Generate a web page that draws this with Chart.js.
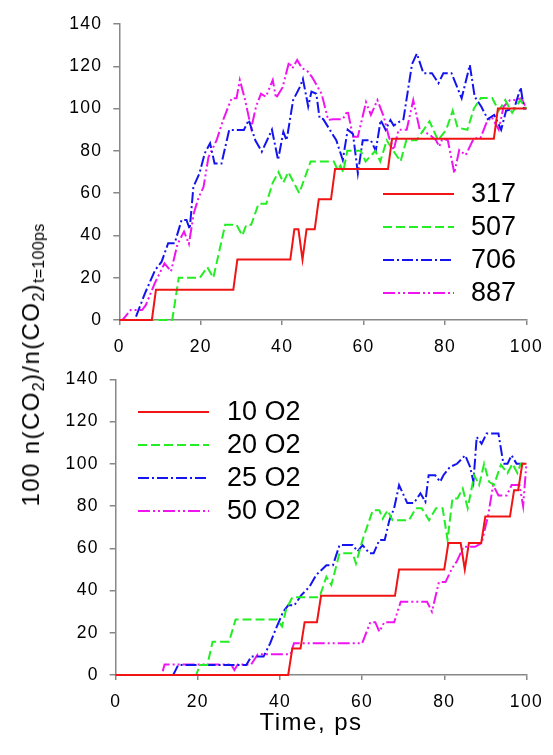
<!DOCTYPE html>
<html>
<head>
<meta charset="utf-8">
<script src="https://cdn.jsdelivr.net/npm/chart.js@4.4.1/dist/chart.umd.min.js"></script>
<style>
  html, body { margin: 0; padding: 0; background: #fff; }
  #page { position: relative; width: 553px; height: 755px; overflow: hidden;
          font-family: "Liberation Sans", Arial, sans-serif; color: #000; }
  .panel { position: absolute; left: 0; width: 553px; }
  #top { top: 0; height: 360px; }
  #bottom { top: 355px; height: 400px; }
  #ytitle { position: absolute; left: 31px; top: 365px; white-space: nowrap;
            transform: translate(-50%, -50%) rotate(-90deg);
            font-size: 24px; line-height: 24px; letter-spacing: 1.4px; }
  #ytitle sub { font-size: 16px; line-height: 0; letter-spacing: 0.3px; vertical-align: -5px; }
  #xtitle { position: absolute; left: 311px; top: 710px; transform: translateX(-50%);
            font-size: 24px; line-height: 24px; letter-spacing: 1.5px; white-space: nowrap; }
</style>
</head>
<body>
<div id="page">
  <div class="panel" id="top"><canvas id="chartTop"></canvas></div>
  <div class="panel" id="bottom"><canvas id="chartBottom"></canvas></div>
  <div id="ytitle">100 n(CO<sub>2</sub>)/n(CO<sub>2</sub>)<sub>t=100ps</sub></div>
  <div id="xtitle">Time, ps</div>
</div>
<script>
  // top panel: temperatures
  const topNames = ["317", "507", "706", "887"];

  const t317 = [0, 8, 9, 28, 29, 42, 43, 44, 45, 46, 48, 49, 52, 53, 66, 67, 92, 93, 100];
  const y317 = [0, 0, 14.3, 14.3, 28.6, 28.6, 42.9, 42.9, 28.6, 42.9, 42.9, 57.1, 57.1, 71.4, 71.4, 85.7, 85.7, 100, 100];

  const t507 = [0, 13, 14.6, 19.8, 21.6, 23.1, 26, 28.8, 30.2, 31.2, 32.4, 34.2, 36.1, 37.7, 39.1, 40.3, 41.5, 44.2, 47,
    52.7, 53.6, 54.3, 55, 56, 59.3, 60.5, 62.9, 64.1, 65.7, 67.3, 69.1, 70.5, 73, 76.2, 78.3, 80.3, 81.9, 83.1, 85.5,
    87.1, 88.8, 91.6, 93.2, 94.8, 96.5, 98.5, 100];
  const y507 = [0, 0, 20, 20, 25, 20, 45, 45, 40, 45, 45, 55, 55, 65, 70, 65, 70, 60, 75,
    75, 71, 73, 70, 80, 80, 75, 80, 75, 85, 80, 75, 85, 85, 94, 85, 90, 99, 91, 90,
    100, 105, 105, 99, 104, 98, 104, 100];

  const t706 = [0, 3.8, 6.3, 8.8, 10.4, 12, 13.6, 15.3, 16.5, 17.3, 18.2, 19.7, 21, 22.3, 23.4, 25.1, 27, 30.6, 31.8,
    33.4, 35, 37.5, 39, 40.3, 41.1, 42.7, 44.3, 45.1, 46.4, 47.2, 48.4, 49.2, 50.1, 51.7, 53.3, 54.9, 56.1, 57.4,
    58.6, 59.8, 61.8, 63, 64.2, 65.4, 66.6, 67.4, 69.8, 71.9, 73.1, 74.7, 76.8, 78.4, 79.6, 81.6, 84.1, 86.1, 87.3,
    88.9, 90.5, 92.1, 93.8, 95, 97, 98.6, 99.4, 100];
  const y706 = [0, 0, 12.6, 23.6, 27.6, 36.3, 36.3, 47.3, 47.3, 43, 63, 69.4, 78.9, 83.6, 74, 74, 89.9, 89.9, 94.6,
    85, 79.6, 90, 75.7, 89, 85, 104, 110, 114, 101, 108, 107, 95.4, 95, 90, 85, 75.7, 90, 88,
    69.4, 85, 85, 80, 94.6, 90, 94.6, 92, 95, 121, 126, 116.7, 116.7, 112, 116.7, 116.7, 104.9, 120.6, 105.6,
    101, 95, 97, 90, 99, 100, 110, 100, 100];

  const t887 = [0, 0.8, 2.8, 5.6, 6.5, 8.7, 11.1, 12.7, 14.3, 15.9, 17.1, 18.3, 19.5, 20.7, 21.9, 23.9, 25.5, 27.6,
    28.8, 29.6, 30.8, 32.4, 33.6, 34.8, 36, 37.7, 38.5, 40.1, 41.7, 42.5, 43.7, 44.9, 46.1, 47.3, 49.7, 51.3, 52.5,
    54.9, 56.1, 57.4, 58.6, 60.6, 61.8, 63.4, 65, 66.2, 67.4, 68.6, 70.6, 72.2, 73.8, 76.2, 77.8, 78.6, 79.4, 80.7,
    82.3, 83.5, 85.1, 87.1, 88.7, 90.3, 91.5, 93.2, 94.4, 96, 97.6, 98.8, 100];
  const y887 = [0, 0, 4.7, 4.7, 7, 17.3, 26.8, 23, 36, 41.8, 36, 50.5, 58, 63, 77, 85, 94.6, 104.9,
    104.9, 113.5, 104.9, 90.7, 101, 107, 105.6, 113.5, 104.9, 110, 122, 119, 123, 119, 118, 115, 107, 94.6, 95,
    95, 99, 86.7, 86.7, 103, 97, 104, 96, 86.7, 80.4, 90, 90, 104, 90, 87.7, 85, 82, 86, 85,
    69.4, 80.4, 78, 86, 86, 93.8, 96, 90, 101, 104, 104, 105, 100];

  // bottom panel: number of O2 molecules
  const bottomNames = ["10 O2", "20 O2", "25 O2", "50 O2"];

  const t10 = [0, 42, 43, 45, 46, 49, 50, 68, 69, 80, 81, 84, 85, 86, 89, 90, 96, 97, 98, 99, 100];
  const y10 = [0, 0, 12.5, 12.5, 25, 25, 37.5, 37.5, 50, 50, 62.5, 62.5, 50, 62.5, 62.5, 75, 75, 87.5, 87.5, 100, 100];

  const t20 = [0, 19.6, 20.5, 22.3, 23.6, 27.6, 29.2, 39.3, 40.5, 41.5, 43, 49.6, 51.3, 52.5, 54.5, 57.7, 58.5, 60.1,
    62.6, 64.2, 65, 66.2, 67.4, 71.4, 73.1, 74.5, 76.3, 78, 79.6, 80.8, 82, 83.2, 84.5, 85.7, 87.3, 88.5, 89.7, 90.9,
    92.1, 93.8, 95.4, 96.6, 97.8, 98.6, 100];
  const y20 = [0, 0, 4.7, 4.7, 15.8, 15.8, 26.3, 26.3, 23, 31, 36.8, 36.8, 46.5, 42.6, 57.6, 57.6, 52.8, 63.9,
    78, 78, 74, 78, 73.3, 73.3, 79, 79, 73.3, 79, 79, 63.9, 83.6, 83.6, 88.3, 79, 94.6, 90, 100, 91.5,
    90, 99.5, 95.6, 100, 95.6, 100, 100];

  const t25 = [0, 14, 15.2, 31.8, 33, 36, 37.6, 39.2, 40.8, 42, 43.5, 45.2, 47.2, 48.8, 49.7, 51.3, 52.9, 54.5, 57.7,
    58.9, 60.1, 61.8, 62.8, 64.2, 65.5, 66.6, 67.8, 69, 71, 72.6, 74.2, 75.4, 76.2, 77.8, 79, 79.8, 81.4, 83.1, 85.1,
    86.3, 87.1, 87.9, 89.1, 90.3, 93.2, 94.4, 95.4, 96.4, 97.6, 100];
  const y25 = [0, 0, 4.7, 4.7, 8.7, 8.7, 15, 22.8, 30, 33, 33, 37.8, 41.8, 47.3, 49, 52, 52, 61.5, 61.5,
    58.5, 61.5, 57.6, 57.6, 63.9, 63.9, 73, 79, 89.9, 81.4, 81.4, 86, 82, 94.6, 94.6, 91.5, 94.6, 98.5, 100, 104,
    98.5, 91.5, 112.7, 109.5, 114.3, 114.3, 100, 100, 104, 100, 100];

  const t50 = [0, 11.2, 11.9, 28.1, 28.9, 29.7, 33, 34.6, 42.6, 43.4, 60, 62, 63.2, 64.2, 65.4, 67.8, 69.4, 75.8, 77,
    78.7, 80.3, 81.9, 83.1, 84.7, 87.5, 89.1, 90.7, 91.9, 93.2, 95.2, 96.4, 97.4, 98.3, 99.2, 100];
  const y50 = [0, 0, 5, 5, 2.4, 5, 5, 9.8, 9.8, 15, 15, 25, 25, 20.5, 25, 25, 34.7, 34.7, 30,
    44, 44, 50.5, 54, 60.7, 60.7, 62.5, 75.7, 89.9, 85, 85, 89.9, 89.9, 90, 80, 100];

  const xTicks = { min: 0, max: 100, step: 20 };
  const yTicks = { min: 0, max: 140, step: 20 };

  const lineStyles = [
    { color: "#f01414", dash: [] },
    { color: "#22ee22", dash: [9, 4] },
    { color: "#1414f0", dash: [11, 3, 2, 3] },
    { color: "#f014f0", dash: [12, 3, 2, 3, 2, 3] },
  ];

  const FONT = '"Liberation Sans", Arial, sans-serif';
  Chart.defaults.font.family = FONT;
  Chart.defaults.font.size = 17.5;
  Chart.defaults.color = "#000";

  // slightly wider tick labels, like the original
  const wideText = {
    id: "wideText",
    beforeDraw(chart) { chart.ctx.letterSpacing = "1.3px"; },
  };

  const lineKey = {
    id: "lineKey",
    afterDatasetsDraw(chart, args, opts) {
      const ctx = chart.ctx;
      ctx.save();
      ctx.letterSpacing = "0px";
      ctx.font = "27px " + FONT;
      ctx.textBaseline = "middle";
      ctx.fillStyle = "#000";
      chart.data.datasets.forEach((ds, i) => {
        const y = opts.top + i * opts.gap;
        ctx.strokeStyle = ds.borderColor;
        ctx.lineWidth = ds.borderWidth;
        ctx.setLineDash(ds.borderDash);
        ctx.beginPath();
        ctx.moveTo(opts.x0, y);
        ctx.lineTo(opts.x1, y);
        ctx.stroke();
        ctx.setLineDash([]);
        ctx.fillText(ds.label, opts.textX, y + 1);
      });
      ctx.restore();
    },
  };

  function toPoints(ts, ys) {
    return ts.map((t, i) => ({ x: t, y: ys[i] }));
  }

  function makeChart(id, names, series, box) {
    const datasets = series.map((s, i) => ({
      label: names[i],
      data: toPoints(s[0], s[1]),
      borderColor: lineStyles[i].color,
      borderDash: lineStyles[i].dash,
      borderWidth: 2,
      pointRadius: 0,
      tension: 0,
      fill: false,
      clip: false,
    }));
    const axisGrid = (len) => ({
      drawOnChartArea: false, drawTicks: true, tickLength: len, color: "#888", lineWidth: 1.5,
    });
    return new Chart(document.getElementById(id), {
      type: "line",
      data: { datasets },
      options: {
        responsive: true,
        maintainAspectRatio: false,
        animation: false,
        events: [],
        layout: { padding: { left: 0, right: box.right, top: box.top, bottom: 0 } },
        plugins: {
          legend: { display: false },
          tooltip: { enabled: false },
          lineKey: box.key,
        },
        scales: {
          x: {
            type: "linear", min: xTicks.min, max: xTicks.max,
            ticks: { stepSize: xTicks.step, padding: 12, color: "#000" },
            grid: axisGrid(5),
            border: { color: "#888", width: 1.5 },
            afterFit(s) { s.height = box.xHeight; },
          },
          y: {
            type: "linear", min: yTicks.min, max: yTicks.max,
            ticks: { stepSize: yTicks.step, padding: 11, color: "#000" },
            grid: axisGrid(6),
            border: { color: "#888", width: 1.5 },
            afterFit(s) { s.width = box.yWidth; },
          },
        },
      },
      plugins: [wideText, lineKey],
    });
  }

  makeChart("chartTop", topNames,
    [[t317, y317], [t507, y507], [t706, y706], [t887, y887]],
    { right: 21.3, top: 24, xHeight: 40, yWidth: 119.3,
      key: { x0: 383, x1: 454, textX: 471, top: 194, gap: 33 } });

  makeChart("chartBottom", bottomNames,
    [[t10, y10], [t20, y20], [t25, y25], [t50, y50]],
    { right: 25, top: 24.3, xHeight: 80, yWidth: 115.7,
      key: { x0: 138, x1: 209, textX: 227, top: 57, gap: 33 } });
</script>
</body>
</html>
